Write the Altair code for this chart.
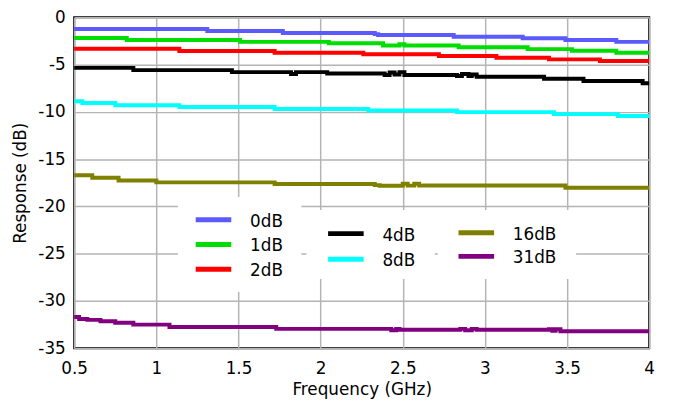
import altair as alt
import pandas as pd

# ---------------- data ----------------
series_names = ["0dB", "1dB", "2dB", "4dB", "8dB", "16dB", "31dB"]
series_colors = ["#5a5aff", "#00dd00", "#ff0000", "#000000", "#00ffff", "#808000", "#800080"]

f_0dB = [0.5, 1.31, 1.77, 2.33, 2.35, 2.81, 3.23, 3.49, 3.80, 4.0]
v_0dB = [-1.25, -1.45, -1.67, -1.78, -1.87, -2.05, -2.22, -2.4, -2.6, -2.6]

f_1dB = [0.5, 0.82, 1.51, 2.05, 2.38, 2.48, 2.51, 2.84, 3.26, 3.53, 3.80, 4.0]
v_1dB = [-2.19, -2.4, -2.6, -2.74, -2.99, -2.85, -2.99, -3.16, -3.37, -3.54, -3.75, -3.75]

f_2dB = [0.5, 1.14, 1.72, 2.26, 2.72, 3.07, 3.39, 3.70, 4.0]
v_2dB = [-3.33, -3.57, -3.75, -3.92, -4.1, -4.27, -4.45, -4.62, -4.62]

f_4dB = [0.5, 0.86, 1.46, 1.82, 1.85, 2.04, 2.39, 2.42, 2.45, 2.48, 2.51, 2.83, 2.86,
         2.90, 2.92, 2.95, 3.36, 3.60, 3.96, 4.0]
v_4dB = [-5.35, -5.59, -5.8, -6.0, -5.8, -5.94, -6.1, -5.85, -6.05, -5.8, -6.1, -6.2, -6.0,
         -6.2, -6.05, -6.28, -6.5, -6.74, -6.98, -6.98]

f_8dB = [0.5, 0.55, 0.75, 1.14, 1.72, 2.29, 2.83, 3.42, 3.81, 4.0]
v_8dB = [-8.89, -9.06, -9.3, -9.48, -9.69, -9.86, -10.03, -10.24, -10.45, -10.45]

f_16dB = [0.5, 0.61, 0.77, 1.0, 1.72, 2.33, 2.36, 2.5, 2.53, 2.57, 2.6, 2.63, 3.49, 4.0]
v_16dB = [-16.7, -16.98, -17.26, -17.46, -17.64, -17.75, -17.81, -17.6, -17.8, -17.6, -17.8,
          -17.78, -18.02, -18.02]

f_31dB = [0.5, 0.53, 0.58, 0.66, 0.75, 0.86, 1.08, 1.73, 2.43, 2.46, 2.48, 2.85, 2.88, 2.92,
          2.95, 3.39, 3.41, 3.43, 3.46, 4.0]
v_31dB = [-31.7, -31.9, -32.0, -32.15, -32.3, -32.5, -32.75, -32.95, -33.1, -32.95, -33.05,
          -32.95, -33.1, -32.95, -33.05, -33.0, -33.15, -33.0, -33.2, -33.2]

x_ticks = [0.5, 1, 1.5, 2, 2.5, 3, 3.5, 4]
y_ticks = [-35, -30, -25, -20, -15, -10, -5, 0]

# legend columns (which series go in which legend box)
legend_groups = [["0dB", "1dB", "2dB"], ["4dB", "8dB"], ["16dB", "31dB"]]

# ---------------- table building ----------------
freqs = [f_0dB, f_1dB, f_2dB, f_4dB, f_8dB, f_16dB, f_31dB]
vals = [v_0dB, v_1dB, v_2dB, v_4dB, v_8dB, v_16dB, v_31dB]
rows = []
for name, fs, vs in zip(series_names, freqs, vals):
    for f, v in zip(fs, vs):
        rows.append({"series": name, "f": f, "v": v})
df = pd.DataFrame(rows)

# ---------------- layout constants (pixels, relative to plot origin) ----------------
W, H = 582, 335
FONT = "DejaVu Sans"
sym_x0 = [123, 257, 389]          # symbol start for each legend column
sym_len = 36
text_dx = 55
col_y0 = [205, 219, 218]          # first symbol y in each column
row_gap = [25, 26, 24]
boxes = [(105, 230, 182, 278), (235, 365, 195, 265), (368, 508, 195, 265)]

leg_rows = []
for c, grp in enumerate(legend_groups):
    for r, name in enumerate(grp):
        y = col_y0[c] + r * row_gap[c]
        leg_rows.append({"series": name, "x": sym_x0[c], "x2": sym_x0[c] + sym_len,
                         "tx": sym_x0[c] + text_dx, "y": y, "ty": y + 2})
leg = pd.DataFrame(leg_rows)
box_df = pd.DataFrame([{"x": b[0], "x2": b[1], "y": b[2], "y2": b[3]} for b in boxes])

color_scale = alt.Scale(domain=series_names, range=series_colors)

lines = alt.Chart(df).mark_line(interpolate="step-after", strokeWidth=4, strokeCap="butt").encode(
    x=alt.X("f:Q", scale=alt.Scale(domain=[0.5, 4], nice=False, zero=False),
            axis=alt.Axis(values=x_ticks, title="Frequency (GHz)", labelExpr="'' + datum.value",
                          grid=True, ticks=False, domain=False, labelPadding=13,
                          titlePadding=5, labelFlush=False)),
    y=alt.Y("v:Q", scale=alt.Scale(domain=[-35, 0], nice=False, zero=False),
            axis=alt.Axis(values=y_ticks, title="Response (dB)",
                          labelExpr="datum.value < 0 ? '-' + abs(datum.value) : '' + datum.value",
                          grid=True, ticks=False, domain=False, labelPadding=9,
                          titlePadding=9, labelFlush=False)),
    color=alt.Color("series:N", scale=color_scale, legend=None),
    detail="series:N",
)

bg = alt.Chart(box_df).mark_rect(color="white").encode(
    x=alt.X("x:Q", scale=None), x2="x2:Q",
    y=alt.Y("y:Q", scale=None), y2="y2:Q",
)

leg_sym = alt.Chart(leg).mark_rule(strokeWidth=5).encode(
    x=alt.X("x:Q", scale=None), x2="x2:Q",
    y=alt.Y("y:Q", scale=None),
    color=alt.Color("series:N", scale=color_scale, legend=None),
)

leg_txt = alt.Chart(leg).mark_text(align="left", baseline="middle", font=FONT, fontSize=17,
                                    color="black").encode(
    x=alt.X("tx:Q", scale=None),
    y=alt.Y("ty:Q", scale=None),
    text="series:N",
)

chart = alt.layer(bg, lines, leg_sym, leg_txt).properties(
    width=W, height=H,
    background="white",
    autosize=alt.AutoSizeParams(type="none"),
    padding={"left": 67, "top": 7, "right": 16, "bottom": 51},
).configure_view(
    stroke="black", strokeWidth=2,
).configure_axis(
    labelFont=FONT, titleFont=FONT, labelFontSize=17, titleFontSize=17,
    labelColor="black", titleColor="black", titleFontWeight="normal",
    gridColor="#b4b4b4", gridWidth=1.5, gridOpacity=1,
)

chart.save("out.html", embed_options={"renderer": "svg", "actions": False})
